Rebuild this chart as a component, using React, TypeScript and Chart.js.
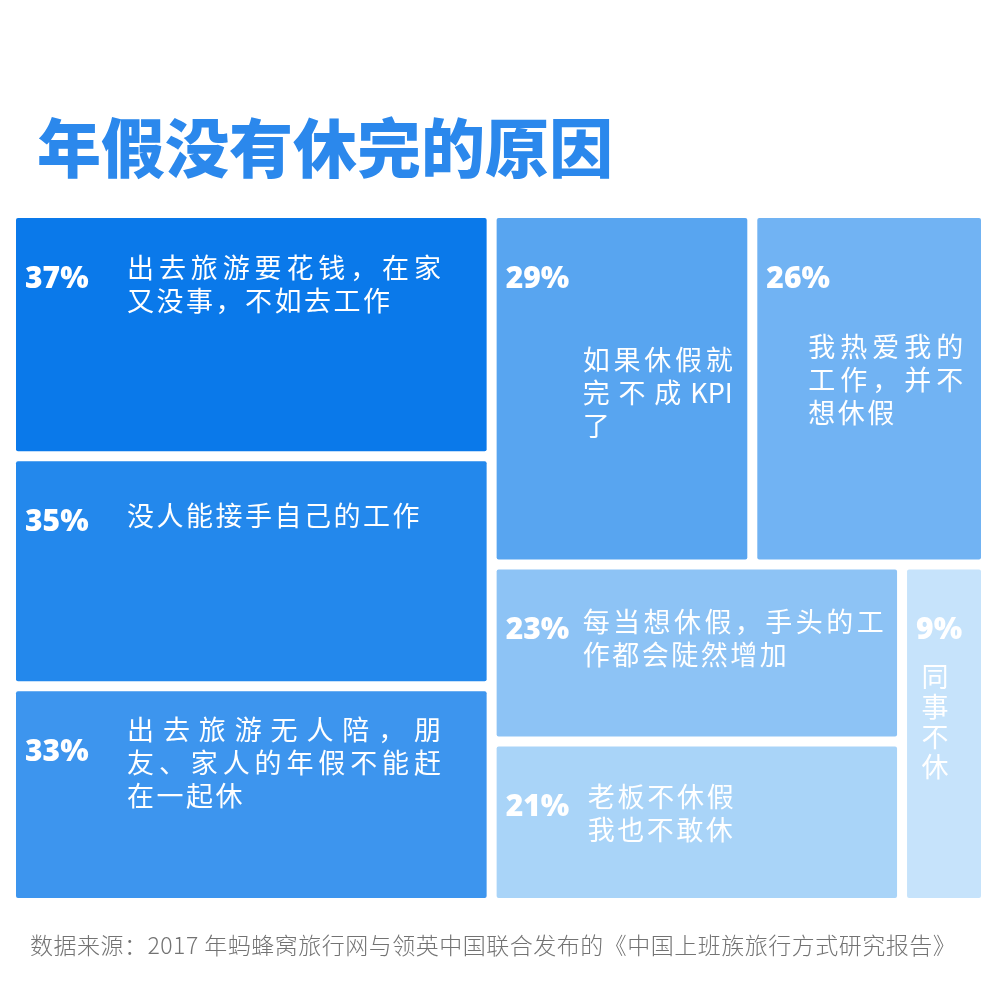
import React, { useEffect, useRef } from 'react';
import Chart from 'chart.js/auto';

// Share of respondents per reason (percent)
const shares = [37, 35, 33, 29, 26, 23, 21, 9];

// Reason text, already broken into the lines used on the tiles
const reasonLines = [
  ['出去旅游要花钱，在家', '又没事，不如去工作'],
  ['没人能接手自己的工作'],
  ['出去旅游无人陪，朋', '友、家人的年假不能赶', '在一起休'],
  ['如果休假就', '完不成 KPI', '了'],
  ['我热爱我的', '工作，并不', '想休假'],
  ['每当想休假，手头的工', '作都会陡然增加'],
  ['老板不休假', '我也不敢休'],
  ['同', '事', '不', '休'],
];

// How the tiles nest: 'row' splits left-to-right, 'col' splits top-to-bottom
type Node = number | { dir: 'row' | 'col'; children: Node[] };
const tileTree: Node = {
  dir: 'row',
  children: [
    { dir: 'col', children: [0, 1, 2] },
    {
      dir: 'col',
      children: [
        { dir: 'row', children: [3, 4] },
        { dir: 'row', children: [{ dir: 'col', children: [5, 6] }, 7] },
      ],
    },
  ],
};

// Styling
const tileColors = ['#0a79ea', '#2388ec', '#3d95ee', '#58a5f0', '#71b3f3', '#8dc3f5', '#a9d4f8', '#c6e3fb'];
const textBoxes = [
  { dx: 111, dy: 50, w: 314 },
  { dx: 111, dy: 55, w: 314 },
  { dx: 111, dy: 39, w: 314 },
  { dx: 86, dy: 142, w: 150 },
  { dx: 51, dy: 129, w: 155 },
  { dx: 86, dy: 52, w: 301 },
  { dx: 91, dy: 50, w: 146 },
  { dx: 28, dy: 107, w: 0, vertical: true },
];
const GAP = 10;
const LINE_HEIGHT = 33;
const NATURAL_SPACING = 2.5;
const CJK = '"Noto Sans CJK SC", "Noto Sans", sans-serif';

type Tile = { x0: number; x1: number; y0: number; y1: number };

const sumOf = (n: Node): number =>
  typeof n === 'number' ? shares[n] : n.children.reduce((a, c) => a + sumOf(c), 0);

// slice-and-dice layout in 0..1 units
const layoutTiles = (n: Node, x0: number, y0: number, x1: number, y1: number, out: Tile[]) => {
  if (typeof n === 'number') {
    out[n] = { x0, x1, y0, y1 };
    return;
  }
  const total = sumOf(n);
  let pos = n.dir === 'row' ? x0 : y0;
  n.children.forEach((c) => {
    const frac = sumOf(c) / total;
    if (n.dir === 'row') {
      const next = pos + frac * (x1 - x0);
      layoutTiles(c, pos, y0, next, y1, out);
      pos = next;
    } else {
      const next = pos + frac * (y1 - y0);
      layoutTiles(c, x0, pos, x1, next, out);
      pos = next;
    }
  });
};

const tiles: Tile[] = [];
layoutTiles(tileTree, 0, 0, 1, 1, tiles);

const drawLine = (ctx: CanvasRenderingContext2D, line: string, x: number, y: number, width: number, justify: boolean) => {
  const units = line.match(/[A-Za-z0-9]+|\S/g) || [];
  const widths = units.map((u) => ctx.measureText(u).width);
  const total = widths.reduce((a, b) => a + b, 0);
  const gap = justify && units.length > 1 ? (width - total) / (units.length - 1) : NATURAL_SPACING;
  let cx = x;
  units.forEach((u, k) => {
    ctx.fillText(u, cx, y);
    cx += widths[k] + gap;
  });
};

const tilePlugin = {
  id: 'tiles',
  beforeDatasetsDraw(chart: any) {
    const { ctx, scales } = chart;
    const { x, y } = scales;
    ctx.save();
    tiles.forEach((t, i) => {
      const left = x.getPixelForValue(t.x0);
      const right = x.getPixelForValue(t.x1) - GAP;
      const top = y.getPixelForValue(t.y0);
      const bottom = y.getPixelForValue(t.y1) - GAP;
      ctx.fillStyle = tileColors[i];
      ctx.beginPath();
      ctx.roundRect(left, top, right - left, bottom - top, 2);
      ctx.fill();

      ctx.fillStyle = '#ffffff';
      ctx.textBaseline = 'middle';
      ctx.textAlign = 'left';
      ctx.font = '800 30px "Open Sans", sans-serif';
      ctx.fillText(shares[i] + '%', left + 9, top + 61);

      const box = textBoxes[i];
      ctx.font = '27px ' + CJK;
      const lines = reasonLines[i];
      if (box.vertical) {
        ctx.textAlign = 'center';
        lines.forEach((ch, k) => ctx.fillText(ch, left + box.dx, top + box.dy + k * 30));
      } else {
        lines.forEach((line, k) => {
          drawLine(ctx, line, left + box.dx, top + box.dy + k * LINE_HEIGHT, box.w, k < lines.length - 1);
        });
      }
    });
    ctx.restore();
  },
};

const App: React.FC = () => {
  const canvasRef = useRef<HTMLCanvasElement | null>(null);

  useEffect(() => {
    if (!canvasRef.current) return;
    const chart = new Chart(canvasRef.current, {
      type: 'scatter',
      data: {
        datasets: [
          {
            data: tiles.map((t) => ({ x: (t.x0 + t.x1) / 2, y: (t.y0 + t.y1) / 2 })),
            pointRadius: 0,
          },
        ],
      },
      options: {
        animation: false,
        responsive: true,
        maintainAspectRatio: false,
        layout: { padding: { left: 16, top: 218, right: 9, bottom: 92 } },
        scales: {
          x: { type: 'linear', min: 0, max: 1, display: false },
          y: { type: 'linear', min: 0, max: 1, reverse: true, display: false },
        },
        plugins: { legend: { display: false }, tooltip: { enabled: false } },
      },
      plugins: [tilePlugin],
    });
    return () => chart.destroy();
  }, []);

  return (
    <div style={{ position: 'absolute', left: 0, top: 0, width: 1000, height: 1000, background: '#fff' }}>
      <div
        style={{
          position: 'absolute',
          left: 37,
          top: 112,
          fontFamily: CJK,
          fontWeight: 900,
          fontSize: 64,
          lineHeight: '64px',
          color: '#2b88ec',
          whiteSpace: 'nowrap',
        }}
      >
        年假没有休完的原因
      </div>
      <canvas ref={canvasRef} style={{ position: 'absolute', left: 0, top: 0 }}></canvas>
      <div
        style={{
          position: 'absolute',
          left: 30,
          top: 933,
          fontFamily: CJK,
          fontWeight: 300,
          fontSize: 23,
          lineHeight: '23px',
          letterSpacing: '0.5px',
          color: '#737373',
          whiteSpace: 'nowrap',
        }}
      >
        数据来源：2017 年蚂蜂窝旅行网与领英中国联合发布的《中国上班族旅行方式研究报告》
      </div>
    </div>
  );
};

export default App;
